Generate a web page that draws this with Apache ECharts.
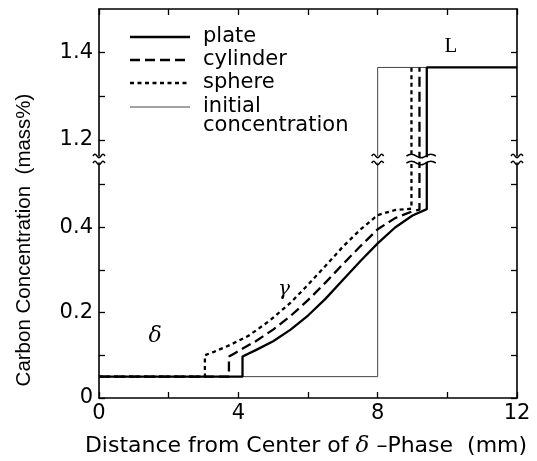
<!DOCTYPE html>
<html>
<head>
<meta charset="utf-8">
<script src="https://cdn.jsdelivr.net/npm/echarts@6/dist/echarts.min.js"></script>
<style>
html,body{margin:0;padding:0;background:#fff;}
#c{width:537px;height:461px;}
</style>
</head>
<body>
<div id="c"></div>
<script>
// ---- data (x: distance in mm, y: carbon concentration in mass%) ----
const plate = [[0,0.05],[4.12,0.05],[4.12,0.097],[4.5,0.112],[5.0,0.133],[5.5,0.160],[6.0,0.193],[6.5,0.232],[7.0,0.276],[7.5,0.320],[8.0,0.362],[8.5,0.399],[9.0,0.427],[9.41,0.442],[9.41,1.366],[12,1.366]];
const cylinder = [[0,0.05],[3.73,0.05],[3.73,0.097],[3.9,0.105],[4.5,0.133],[5.0,0.160],[5.5,0.192],[6.0,0.229],[6.5,0.270],[7.0,0.313],[7.5,0.355],[8.0,0.395],[8.5,0.421],[9.0,0.437],[9.2,0.441],[9.2,1.366]];
const sphere = [[0,0.05],[3.04,0.05],[3.04,0.100],[3.3,0.108],[3.76,0.124],[4.3,0.146],[4.9,0.181],[5.5,0.223],[6.0,0.265],[6.5,0.309],[7.0,0.354],[7.5,0.394],[8.0,0.428],[8.5,0.440],[8.97,0.443],[8.97,1.366]];
const initial = [[0,0.05],[8,0.05],[8,1.366],[12,1.366]];
const seriesNames = ['plate','cylinder','sphere','initial concentration'];
const legendLines = [['plate'],['cylinder'],['sphere'],['initial','concentration']];
const xTicks = [0,2,4,6,8,10,12];
const xTickLabels = [0,4,8,12];
const yLowTicks = [0,0.1,0.2,0.3,0.4,0.5];
const yLowLabels = [0,0.2,0.4];
const yHighTicks = [1.2,1.3,1.4];
const yHighLabels = [1.2,1.4];

const FONT = '"DejaVu Sans", "Liberation Sans", Arial, sans-serif';
const chart = echarts.init(document.getElementById('c'), null, {renderer:'canvas'});

const G_LEFT = 99, G_RIGHT = 20;
const grids = [
  {left:G_LEFT, right:G_RIGHT, top:9, height:147},
  {left:G_LEFT, right:G_RIGHT, top:163, bottom:63}
];
const axisLine = {show:true, lineStyle:{color:'#000', width:1.6}};
const tick = {inside:true, length:6, lineStyle:{color:'#000', width:1.3}};
const labelStyle = {color:'#000', fontSize:21, fontFamily:FONT};

const xAxes = [
  {gridIndex:0, type:'value', min:0, max:12, position:'top', axisLine,
   axisTick:Object.assign({}, tick, {customValues:xTicks}), axisLabel:{show:false}, splitLine:{show:false}},
  {gridIndex:1, type:'value', min:0, max:12, position:'bottom', axisLine,
   axisTick:Object.assign({}, tick, {customValues:xTicks}),
   axisLabel:Object.assign({}, labelStyle, {customValues:xTickLabels, margin:5}), splitLine:{show:false}}
];
const yAxes = [
  {gridIndex:0, type:'value', min:1.163, max:1.5, position:'left', axisLine,
   axisTick:Object.assign({}, tick, {customValues:yHighTicks}),
   axisLabel:Object.assign({}, labelStyle, {customValues:yHighLabels, margin:6, formatter:v=>v.toFixed(1)}), splitLine:{show:false}},
  {gridIndex:0, type:'value', min:1.163, max:1.5, position:'right', axisLine,
   axisTick:Object.assign({}, tick, {customValues:yHighTicks}), axisLabel:{show:false}, splitLine:{show:false}},
  {gridIndex:1, type:'value', min:0, max:0.55, position:'left', axisLine,
   axisTick:Object.assign({}, tick, {customValues:yLowTicks}),
   axisLabel:Object.assign({}, labelStyle, {customValues:yLowLabels, margin:6, formatter:v=>v===0?'0':v.toFixed(1)}), splitLine:{show:false}},
  {gridIndex:1, type:'value', min:0, max:0.55, position:'right', axisLine,
   axisTick:Object.assign({}, tick, {customValues:yLowTicks}), axisLabel:{show:false}, splitLine:{show:false}}
];

const styles = {
  'plate': {color:'#000', width:2.3, type:'solid'},
  'cylinder': {color:'#000', width:2.3, type:[10,5]},
  'sphere': {color:'#000', width:2.3, type:[4,3.5]},
  'initial concentration': {color:'#444', width:1, type:'solid'}
};
const dataByName = {'plate':plate,'cylinder':cylinder,'sphere':sphere,'initial concentration':initial};

const series = [];
seriesNames.slice().reverse().forEach(name => {
  [0,1].forEach(g => {
    series.push({
      name, type:'line', xAxisIndex:g, yAxisIndex:g===0?0:2,
      data:dataByName[name], showSymbol:false, symbol:'none', clip:true,
      lineStyle:styles[name], itemStyle:{color:styles[name].color}, animation:false,
      z: name==='plate'?5:4
    });
  });
});

chart.setOption({
  animation:false,
  backgroundColor:'#fff',
  grid:grids, xAxis:xAxes, yAxis:yAxes, series
});

// ---- decorations: break marks, legend, labels ----
function tilde(x, y, w) {
  const pts = [];
  for (let i = 0; i <= 12; i++) {
    const t = i/12;
    pts.push([x - w/2 + t*w, y - 1.8*Math.sin(t*Math.PI*2*1.5)]);
  }
  return {type:'polyline', shape:{points:pts, smooth:0.3}, style:{stroke:'#000', lineWidth:1.5, fill:null}, z:100};
}
const topGap = chart.convertToPixel({yAxisIndex:0}, 1.163);
const botGap = chart.convertToPixel({yAxisIndex:2}, 0.55);
const xl = chart.convertToPixel({xAxisIndex:1}, 0);
const xr = chart.convertToPixel({xAxisIndex:1}, 12);
const x8 = chart.convertToPixel({xAxisIndex:1}, 8);
const xs = chart.convertToPixel({xAxisIndex:1}, sphere[sphere.length-1][0]);
const xp = chart.convertToPixel({xAxisIndex:1}, plate[plate.length-2][0]);
const graphics = [];
[xl, xr, x8].forEach(x => { graphics.push(tilde(x, topGap, 12)); graphics.push(tilde(x, botGap, 12)); });
const cw = xp - xs + 14;
graphics.push(tilde((xs+xp)/2 + 2, topGap, cw));
graphics.push(tilde((xs+xp)/2 + 2, botGap, cw));

// legend
const LEG_X0 = 130, LEG_X1 = 190, LEG_TX = 203;
const legRows = [37, 60, 83, 107];
seriesNames.forEach((name, i) => {
  const st = styles[name];
  const y = legRows[i];
  graphics.push({type:'line', shape:{x1:LEG_X0, y1:y, x2:LEG_X1, y2:y},
    style:{stroke:st.color, lineWidth:st.width, lineDash:Array.isArray(st.type)?st.type:null}, z:100});
  legendLines[i].forEach((t, j) => {
    graphics.push({type:'text', x:LEG_TX, y:y + j*19,
      style:{text:t, font:'21px ' + FONT, fill:'#000', textAlign:'left', textVerticalAlign:'middle'}, z:100});
  });
});

// phase labels
const txt = (text, x, y, font) => ({type:'text', x, y, style:{text, font, fill:'#000', textAlign:'center', textVerticalAlign:'middle'}, z:100});
graphics.push(txt('δ', 155, 336, 'italic 22px "DejaVu Serif", "Liberation Serif", serif'));
graphics.push(txt('γ', 284, 290, 'italic 20px "DejaVu Serif", "Liberation Serif", serif'));
graphics.push(txt('L', 451, 46, '21px "Liberation Serif", "Times New Roman", serif'));
// axis titles
graphics.push({type:'text', x:24, y:240, rotation:Math.PI/2,
  style:{text:'Carbon Concentration  (mass%)', font:'20.5px "Liberation Sans", Arial, sans-serif', fill:'#000', textAlign:'center', textVerticalAlign:'middle'}, z:100});
graphics.push({type:'text', x:306, y:446,
  style:{text:'{a|Distance from Center of }{d|δ}{a| –Phase  (mm)}', textAlign:'center', textVerticalAlign:'middle',
    rich:{a:{font:'22px ' + FONT, fill:'#000'}, d:{font:'italic 23px "DejaVu Serif", serif', fill:'#000'}}}, z:100});
chart.setOption({graphic:graphics});
</script>
</body>
</html>
